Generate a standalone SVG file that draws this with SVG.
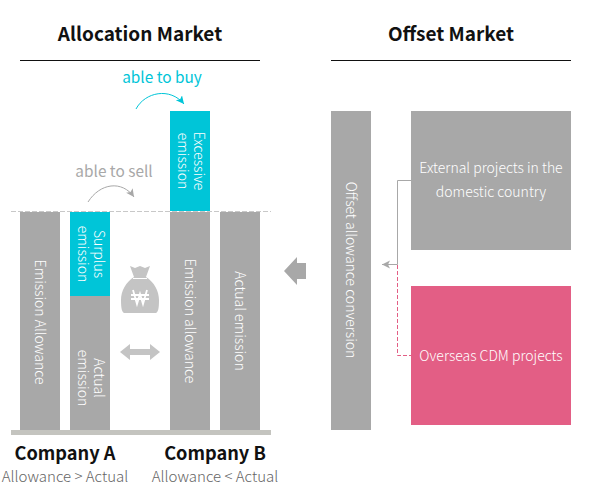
<svg xmlns="http://www.w3.org/2000/svg" width="591" height="497" viewBox="0 0 591 497">
<style>
text{font-family:"Noto Sans CJK KR","Noto Sans",sans-serif}
.t{font-size:19px;font-weight:700;fill:#111;text-anchor:middle}
.c{font-size:18.200px;font-weight:700;fill:#111;text-anchor:middle}
.s{font-size:15px;font-weight:300;fill:#666;text-anchor:middle}
.w{font-size:14px;font-weight:300;fill:#fff;text-anchor:middle}
.g{fill:#a8a8a8}.b{fill:#00c5d8}
</style>
<defs>
<marker id="ah" markerUnits="userSpaceOnUse" markerWidth="10" markerHeight="10" refX="8" refY="4" orient="auto"><path d="M0 0L8 4L0 8L2 4Z" fill="#a8a8a8"/></marker>
<marker id="ab" markerUnits="userSpaceOnUse" markerWidth="10" markerHeight="10" refX="8" refY="4" orient="auto"><path d="M0 0L8 4L0 8L2 4Z" fill="#00c5d8"/></marker>
</defs>
<g id="headers">
<text class="t" x="140" y="41">Allocation Market</text>
<rect x="20" y="60" width="240" height="1" fill="#111"/>
<text class="t" x="451" y="41">Offset Market</text>
<rect x="331" y="60" width="240" height="1" fill="#111"/>
</g>
<g id="baseline">
<rect x="11" y="430" width="260" height="5" fill="#c4c4bf"/>
<line x1="11" y1="211.500" x2="271" y2="211.500" stroke="#c8c8c8" stroke-dasharray="5 2"/>
</g>
<g id="company-a">
<rect class="g" x="20" y="212" width="40" height="218"/>
<text class="w" transform="translate(40 322) rotate(90)" y="5">Emission Allowance</text>
<rect class="b" x="70" y="212" width="40" height="84"/>
<text class="w" transform="translate(90 254) rotate(90)"><tspan x="0" y="-4">Surplus</tspan><tspan x="0" y="12">emission</tspan></text>
<rect class="g" x="70" y="296" width="40" height="134"/>
<text class="w" transform="translate(90 378) rotate(90)"><tspan x="0" y="-4">Actual</tspan><tspan x="0" y="12">emission</tspan></text>
<text class="c" x="65" y="460">Company A</text>
<text class="s" x="65" y="482">Allowance &gt; Actual</text>
</g>
<g id="company-b">
<rect class="b" x="170" y="111" width="40" height="100"/>
<text class="w" transform="translate(190 161) rotate(90)"><tspan x="0" y="-4">Excessive</tspan><tspan x="0" y="12">emission</tspan></text>
<rect class="g" x="170" y="212" width="40" height="218"/>
<text class="w" transform="translate(190 321) rotate(90)" y="5">Emission allowance</text>
<rect class="g" x="220" y="212" width="40" height="218"/>
<text class="w" transform="translate(240 321) rotate(90)" y="5">Actual emission</text>
<text class="c" x="215" y="460">Company B</text>
<text class="s" x="215" y="482">Allowance &lt; Actual</text>
</g>
<g id="money">
<path d="M130 266L135 268L140 266L145 268L150 266L146 277C154 282 159 291 159 300C159 309 158 312 156 313L124 313C122 312 121 309 121 300C121 291 126 282 134 277Z" fill="#c4c4c4"/>
<path d="M133 278.500H147" stroke="#fff" fill="none"/>
<path d="M133 290L137 304L140 294L143 304L147 290M131 295H149M131 299H149" stroke="#fff" stroke-width="1.800" fill="none"/>
<path d="M120 352L130 344V349H150V344L160 352L150 360V355H130V360Z" fill="#c4c4c4"/>
</g>
<g id="labels">
<text x="162" y="83" font-size="15.400" font-weight="400" fill="#00c5d8" text-anchor="middle">able to buy</text>
<text x="114" y="177" font-size="15.400" font-weight="400" fill="#a8a8a8" text-anchor="middle">able to sell</text>
</g>
<g id="offset-conversion">
<rect class="g" x="331" y="111" width="40" height="319"/>
<text class="w" transform="translate(351 270) rotate(90)" y="5">Offset allowance conversion</text>
</g>
<g id="external-projects">
<rect class="g" x="411" y="111" width="160" height="139"/>
<text class="w" x="491" y="173">External projects in the</text>
<text class="w" x="491" y="197">domestic country</text>
</g>
<g id="overseas-cdm">
<rect x="411" y="286" width="160" height="139" fill="#e35e85"/>
<text class="w" x="491" y="361">Overseas CDM projects</text>
</g>
<g id="connectors" fill="none">
<path d="M136 109C145 92 170 87 184 104" stroke="#00c5d8" marker-end="url(#ab)"/>
<path d="M88 202C100 183 122 180 134 197" stroke="#a8a8a8" marker-end="url(#ah)"/>
<path d="M411 180.500H397.500V264.500H382" stroke="#a8a8a8" marker-end="url(#ah)"/>
<path d="M397.500 265V355.500H411" stroke="#e35e85" stroke-dasharray="4 2"/>
<path d="M284 271L297 257V263H306V279H297V285Z" fill="#a8a8a8"/>
</g>
</svg>
